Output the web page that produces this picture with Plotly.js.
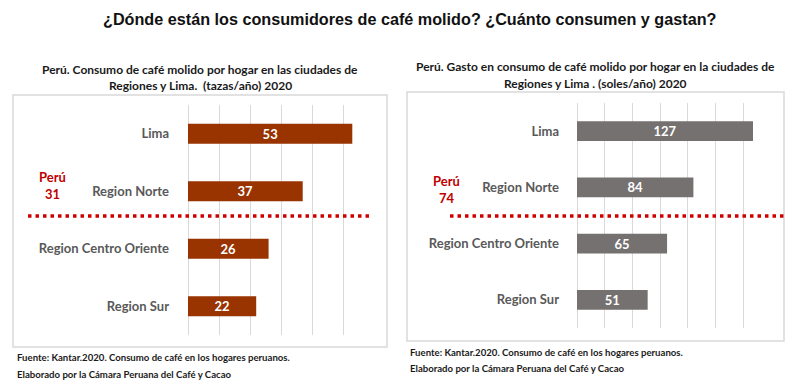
<!DOCTYPE html>
<html>
<head>
<meta charset="utf-8">
<script src="https://cdn.plot.ly/plotly-3.0.1.min.js"></script>
<style>html,body{margin:0;padding:0;background:#fff;}#chart{width:800px;height:387px;}</style>
</head>
<body>
<div id="chart"></div>
<script>
// ---- Data ----
const categories = ["Lima", "Region Norte", "Region Centro Oriente", "Region Sur"];
const consumoTazas = [53, 37, 26, 22];     // tazas/año
const gastoSoles = [127, 84, 65, 51];      // soles/año
const peruConsumo = 31;
const peruGasto = 74;

const mainTitle = "¿Dónde están los consumidores de café molido? ¿Cuánto consumen y gastan?";
const leftTitle = ["Perú. Consumo de café molido por hogar en las ciudades de", "Regiones y Lima.  (tazas/año) 2020"];
const rightTitle = ["Perú. Gasto en consumo de café molido por hogar en la ciudades de", "Regiones y Lima . (soles/año) 2020"];
const fuente = "Fuente: Kantar.2020. Consumo de café en los hogares peruanos.";
const elaborado = "Elaborado por la Cámara Peruana del Café y Cacao";

// ---- Layout helpers ----
const W = 800, H = 387;
const px = x => x / W;
const py = y => 1 - y / H;
const FONT = "Lato, 'Liberation Sans', sans-serif";
const GRID = "#d9d9d9";

const barTrace = (vals, color, xa, ya) => ({
  type: "bar", orientation: "h",
  x: vals, y: categories,
  xaxis: xa, yaxis: ya,
  marker: {color: color},
  width: 0.35,
  text: vals.map(String),
  textposition: "inside", insidetextanchor: "middle", textangle: 0,
  textfont: {family: FONT, size: 13, color: "#ffffff", weight: "bold"},
  constraintext: "none",
  cliponaxis: false,
  hoverinfo: "none"
});

const traces = [
  barTrace(consumoTazas, "#993300", "x", "y"),
  barTrace(gastoSoles, "#767171", "x2", "y2")
];

const axisX = (domain, range, dtick) => ({
  domain: domain, range: range, dtick: dtick,
  showticklabels: false, showgrid: true, gridcolor: GRID, gridwidth: 1,
  zeroline: true, zerolinecolor: GRID, zerolinewidth: 1,
  showline: false, fixedrange: true
});
const axisY = (domain, anchor, standoff) => ({
  domain: domain, anchor: anchor, type: "category",
  autorange: "reversed", showgrid: false, zeroline: false, showline: false,
  ticks: "", ticklabelstandoff: standoff,
  tickfont: {family: FONT, size: 13, color: "#595959", weight: "bold"},
  fixedrange: true
});

const titleFont = {family: FONT, size: 12, color: "#1a1a1a", weight: "bold"};
const footFont = {family: FONT, size: 9.6, color: "#1a1a1a", weight: "bold"};
const redFont = {family: FONT, size: 13, color: "#c00000", weight: "bold"};

const ann = (x, y, text, font, xanchor) => ({
  xref: "paper", yref: "paper", x: px(x), y: py(y), text: text,
  showarrow: false, font: font, xanchor: xanchor || "center", yanchor: "middle",
  align: xanchor === "left" ? "left" : "center"
});

const layout = {
  width: W, height: H,
  margin: {l: 0, r: 0, t: 0, b: 0, pad: 0},
  paper_bgcolor: "#ffffff", plot_bgcolor: "rgba(0,0,0,0)",
  showlegend: false,
  xaxis: axisX([px(188), px(374)], [0, 60], 10),
  yaxis: axisY([py(335), py(105)], "x", 18),
  xaxis2: axisX([px(577), px(771)], [0, 140], 20),
  yaxis2: axisY([py(328), py(103)], "x2", 17),
  shapes: [
    {type: "rect", xref: "paper", yref: "paper", x0: px(13), x1: px(387), y0: py(347), y1: py(95),
     line: {color: GRID, width: 1.5}, fillcolor: "rgba(0,0,0,0)", layer: "below"},
    {type: "rect", xref: "paper", yref: "paper", x0: px(407), x1: px(784), y0: py(341), y1: py(92),
     line: {color: GRID, width: 1.5}, fillcolor: "rgba(0,0,0,0)", layer: "below"},
    {type: "line", xref: "paper", yref: "paper", x0: px(28), x1: px(372), y0: py(216), y1: py(216),
     line: {color: "#d00000", width: 3.5, dash: "3.5px,4px"}},
    {type: "line", xref: "paper", yref: "paper", x0: px(450), x1: px(787), y0: py(216), y1: py(216),
     line: {color: "#d00000", width: 3.5, dash: "3.5px,4px"}}
  ],
  annotations: [
    ann(409, 19, mainTitle, {family: "'Liberation Sans', Arial, sans-serif", size: 16.2, color: "#111111", weight: "bold"}),
    ann(200, 69, leftTitle[0], titleFont),
    ann(200, 85, leftTitle[1], titleFont),
    ann(595, 67, rightTitle[0], titleFont),
    ann(595, 84, rightTitle[1], titleFont),
    ann(52, 185, "Perú<br>" + peruConsumo, redFont),
    ann(446, 189, "Perú<br>" + peruGasto, redFont),
    ann(15, 357, fuente, footFont, "left"),
    ann(15, 374, elaborado, footFont, "left"),
    ann(408, 352, fuente, footFont, "left"),
    ann(408, 368, elaborado, footFont, "left")
  ]
};

Plotly.newPlot("chart", traces, layout, {staticPlot: true, displayModeBar: false});
</script>
</body>
</html>
